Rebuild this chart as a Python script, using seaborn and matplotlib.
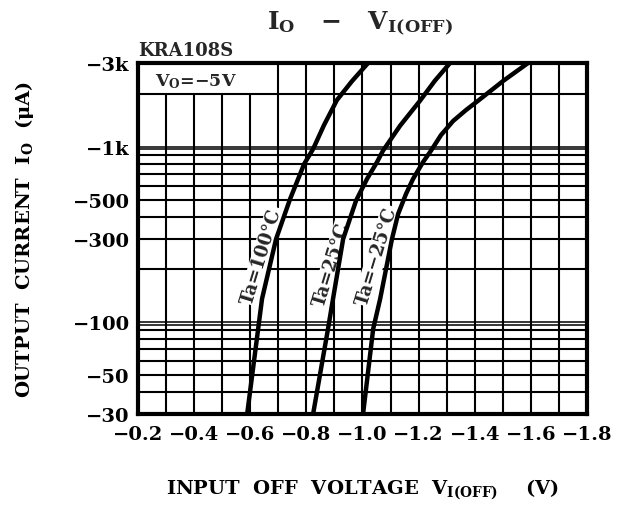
import matplotlib
matplotlib.use("Agg")
import matplotlib.pyplot as plt
import numpy as np
import pandas as pd
import seaborn as sns
from matplotlib.ticker import FixedLocator, FixedFormatter, NullLocator

# input off voltage V_I(OFF) in V, output current magnitude |I_O| in uA
v_100 = [-0.589, -0.642, -0.692, -0.742, -0.792, -0.824, -0.863, -0.909, -0.963, -1.020]
i_100 = [30, 136, 298, 504, 797, 971, 1330, 1846, 2369, 3000]
v_25 = [-0.824, -0.877, -0.895, -0.931, -0.977, -1.016, -1.052, -1.073, -1.134, -1.205, -1.258, -1.312]
i_25 = [30, 91.5, 136, 298, 493, 655, 819, 949, 1318, 1829, 2378, 3000]
v_m25 = [-1.002, -1.038, -1.063, -1.105, -1.127, -1.155, -1.180, -1.216, -1.244, -1.280,
         -1.323, -1.369, -1.412, -1.501, -1.590]
i_m25 = [30, 91.5, 136, 298, 414, 538, 655, 819, 949, 1167, 1402, 1619, 1829, 2369, 3000]

curve_labels = ["Ta=100°C", "Ta=25°C", "Ta=\u221225°C"]

x_ticks = [-0.2, -0.4, -0.6, -0.8, -1.0, -1.2, -1.4, -1.6, -1.8]
x_tick_labels = ["\u22120.2", "\u22120.4", "\u22120.6", "\u22120.8", "\u22121.0",
                 "\u22121.2", "\u22121.4", "\u22121.6", "\u22121.8"]
y_ticks = [30, 50, 100, 300, 500, 1000, 3000]
y_tick_labels = ["\u221230", "\u221250", "\u2212100", "\u2212300", "\u2212500", "\u22121k", "\u22123k"]

sns.set_theme(style="white")
plt.rcParams["font.family"] = ["DejaVu Serif"]
plt.rcParams["font.weight"] = "bold"
plt.rcParams["mathtext.fontset"] = "custom"
plt.rcParams["mathtext.rm"] = "DejaVu Serif:bold"
plt.rcParams["mathtext.it"] = "DejaVu Serif:bold"
plt.rcParams["mathtext.bf"] = "DejaVu Serif:bold"

df = pd.concat([
    pd.DataFrame({"V": v_100, "I": i_100, "Ta": curve_labels[0]}),
    pd.DataFrame({"V": v_25, "I": i_25, "Ta": curve_labels[1]}),
    pd.DataFrame({"V": v_m25, "I": i_m25, "Ta": curve_labels[2]}),
])

fig = plt.figure(figsize=(6.29, 5.06), dpi=100)
ax = fig.add_axes([0.2194, 0.1798, 0.7138, 0.6937])
ax.set_yscale("log")
ax.set_xlim(-0.2, -1.8)
ax.set_ylim(30, 3000)

# grid: every 0.1 V, log minor steps; top-left corner left blank for V_O note
for k in range(3, 18):
    xv = -k / 10
    top = 2000 if k <= 6 else 3000
    ax.vlines(xv, 30, top, color="black", lw=1.5, zorder=1)
for yv in [40, 50, 60, 70, 80, 90, 200, 300, 400, 500, 600, 700, 800, 900, 2000]:
    ax.axhline(yv, color="black", lw=1.5, zorder=1)
for yv in [100, 1000]:
    ax.axhline(yv, color="black", lw=1.1, zorder=1)
    ax.axhline(yv * 0.97, color="black", lw=1.1, zorder=1)

sns.lineplot(data=df, x="V", y="I", hue="Ta", palette=["black"] * 3, sort=False,
             estimator=None, legend=False, lw=3.2, ax=ax, zorder=3)

label_pos = [(-0.64, 240), (-0.89, 215), (-1.05, 240)]
for (lx, ly), txt in zip(label_pos, curve_labels):
    ax.text(lx, ly, txt, rotation=73, ha="center", va="center", fontsize=13,
            fontweight="bold", zorder=2,
            bbox=dict(facecolor="white", edgecolor="none", pad=0.5))

ax.text(-0.26, 2380, "V$_{\\rm O}$=\u22125V", ha="left", va="center", fontsize=12.5,
        fontweight="bold", zorder=4)

ax.xaxis.set_major_locator(FixedLocator(x_ticks))
ax.xaxis.set_major_formatter(FixedFormatter(x_tick_labels))
ax.yaxis.set_major_locator(FixedLocator(y_ticks))
ax.yaxis.set_major_formatter(FixedFormatter(y_tick_labels))
ax.yaxis.set_minor_locator(NullLocator())
ax.tick_params(axis="both", length=0, labelsize=14, colors="black")
ax.tick_params(axis="x", pad=8)
ax.tick_params(axis="y", pad=6)
for lab in ax.get_xticklabels() + ax.get_yticklabels():
    lab.set_fontweight("bold")

for spine in ax.spines.values():
    spine.set_visible(True)
    spine.set_color("black")
    spine.set_linewidth(3)
    spine.set_zorder(5)

ax.set_xlabel("INPUT  OFF  VOLTAGE  V$_{\\rm I(OFF)}$    (V)", fontsize=14,
              fontweight="bold", labelpad=24, color="black")
ax.set_ylabel("OUTPUT  CURRENT  I$_{\\rm O}$  ($\\mu$A)", fontsize=14,
              fontweight="bold", labelpad=26, color="black")
ax.text(0.0, 1.012, "KRA108S", transform=ax.transAxes, ha="left", va="bottom",
        fontsize=13, fontweight="bold")
fig.text(0.572, 0.953, "I$_{\\rm O}$   \u2212   V$_{\\rm I(OFF)}$",
         ha="center", va="center", fontsize=18, fontweight="bold")

fig.savefig("out.png", dpi=100, facecolor="white")
